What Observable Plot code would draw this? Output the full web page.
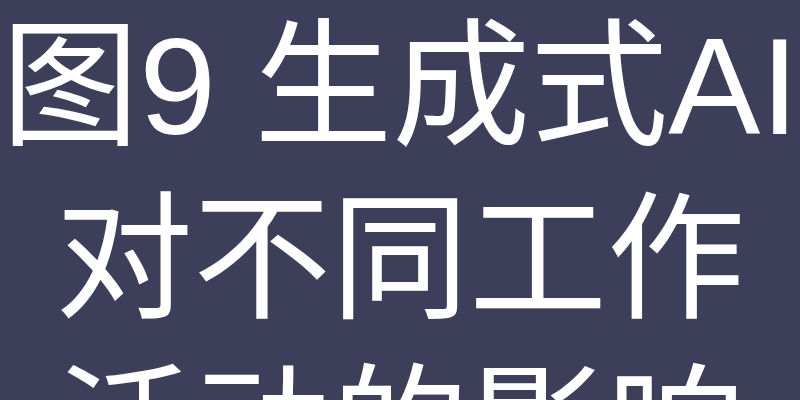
<!DOCTYPE html>
<html>
<head>
<meta charset="utf-8">
<script src="https://cdn.jsdelivr.net/npm/d3@7"></script>
<script src="https://cdn.jsdelivr.net/npm/@observablehq/plot@0.6"></script>
<style>
  html, body { margin: 0; padding: 0; background: #3c3e5a; }
  body { width: 800px; overflow: hidden; font-family: "Liberation Sans", Arial, "Noto Sans CJK SC", sans-serif; }
  h1 { margin: 0; padding: 0; color: #ffffff; font-weight: 400; font-size: 138px; line-height: 1.25; text-align: center; font-family: "Liberation Sans", Arial, "Noto Sans CJK SC", sans-serif; }
  #chart { padding: 0 20px; }
</style>
</head>
<body>
<h1 id="title">图9 生成式AI对不同工作活动的影响</h1>
<div id="chart"></div>
<script>
const titleText = "图9 生成式AI对不同工作活动的影响";
const activities = ["应用专业知识", "管理与协调", "与利益相关方沟通", "处理数据", "收集数据", "可预测的体力活动", "不可预测的体力活动"];
const withoutGenAI = [23, 24, 36, 68, 66, 73, 43];
const withGenAI = [57, 49, 60, 75, 72, 74, 45];

const rows = activities.flatMap((a, i) => [
  {activity: a, series: "未包含生成式AI", value: withoutGenAI[i]},
  {activity: a, series: "包含生成式AI", value: withGenAI[i]}
]);

const chart = Plot.plot({
  width: 760,
  height: 360,
  marginLeft: 140,
  style: {background: "#3c3e5a", color: "#ffffff", fontSize: "12px", fontFamily: "Liberation Sans, Noto Sans CJK SC"},
  x: {domain: [0, 100], label: "技术自动化潜力 (%)", grid: true},
  y: {domain: activities, label: null},
  color: {domain: ["未包含生成式AI", "包含生成式AI"], range: ["#8aa0c8", "#f0b45a"], legend: true},
  marks: [
    Plot.barX(rows, {x: "value", y: "activity", fill: "series", insetTop: 2, insetBottom: 2}),
    Plot.ruleX([0], {stroke: "#ffffff"})
  ]
});
document.getElementById("chart").appendChild(chart);
</script>
</body>
</html>
